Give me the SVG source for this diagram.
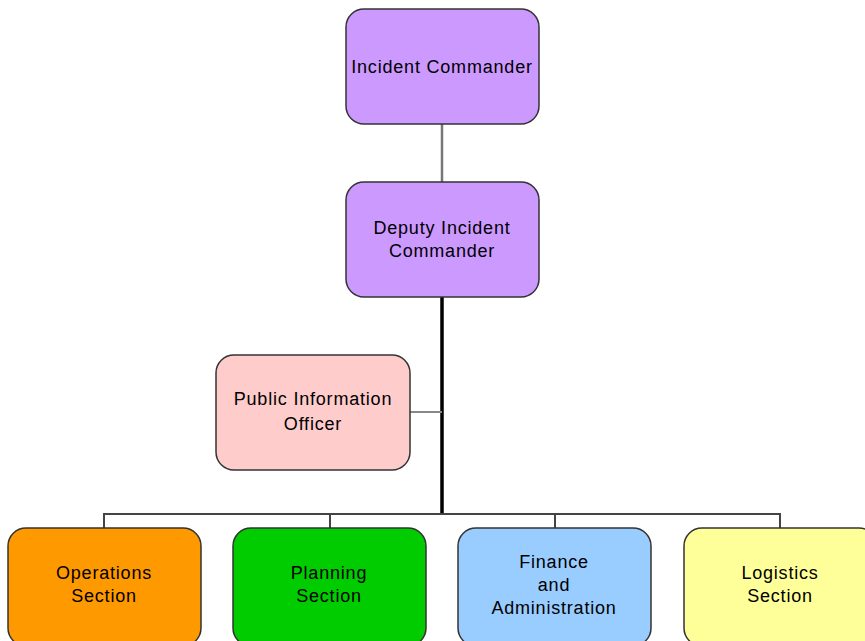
<svg xmlns="http://www.w3.org/2000/svg" width="865" height="641" viewBox="0 0 865 641">
<style>
.box{stroke:#333;stroke-width:1.5}
.t{font-family:"Liberation Sans",Arial,sans-serif;font-size:18px;letter-spacing:0.8px;fill:#000;text-anchor:middle}
.thin{stroke:#444;stroke-width:2;fill:none}
</style>
<rect width="865" height="641" fill="#fff"/>
<g id="connectors">
<line x1="442" y1="124" x2="442" y2="182" stroke="#777" stroke-width="2.5"/>
<line x1="442" y1="297" x2="442" y2="515" stroke="#000" stroke-width="3.5"/>
<line x1="410" y1="412" x2="442" y2="412" stroke="#888" stroke-width="2"/>
<polyline class="thin" points="104,528 104,514 780,514 780,528"/>
<line class="thin" x1="330" y1="514" x2="330" y2="528"/>
<line class="thin" x1="555" y1="514" x2="555" y2="528"/>
</g>
<g id="ic"><rect class="box" x="346" y="9" width="193" height="115" rx="18" fill="#CC99FF"/><text class="t" x="442" y="73">Incident Commander</text></g>
<g id="dic"><rect class="box" x="346" y="182" width="193" height="115" rx="18" fill="#CC99FF"/><text class="t" x="442" y="234">Deputy Incident</text><text class="t" x="442" y="257">Commander</text></g>
<g id="pio"><rect class="box" x="216" y="355" width="194" height="115" rx="18" fill="#FFCCCC"/><text class="t" x="313" y="405">Public Information</text><text class="t" x="313" y="430">Officer</text></g>
<g id="ops"><rect class="box" x="8" y="528" width="193" height="118" rx="18" fill="#FF9900"/><text class="t" x="104" y="579">Operations</text><text class="t" x="104" y="602">Section</text></g>
<g id="plan"><rect class="box" x="233" y="528" width="193" height="118" rx="18" fill="#00CC00"/><text class="t" x="329" y="579">Planning</text><text class="t" x="329" y="602">Section</text></g>
<g id="fin"><rect class="box" x="458" y="528" width="193" height="118" rx="18" fill="#99CCFF"/><text class="t" x="554" y="568">Finance</text><text class="t" x="554" y="591">and</text><text class="t" x="554" y="614">Administration</text></g>
<g id="log"><rect class="box" x="684" y="528" width="193" height="118" rx="18" fill="#FFFF99"/><text class="t" x="780" y="579">Logistics</text><text class="t" x="780" y="602">Section</text></g>
</svg>
